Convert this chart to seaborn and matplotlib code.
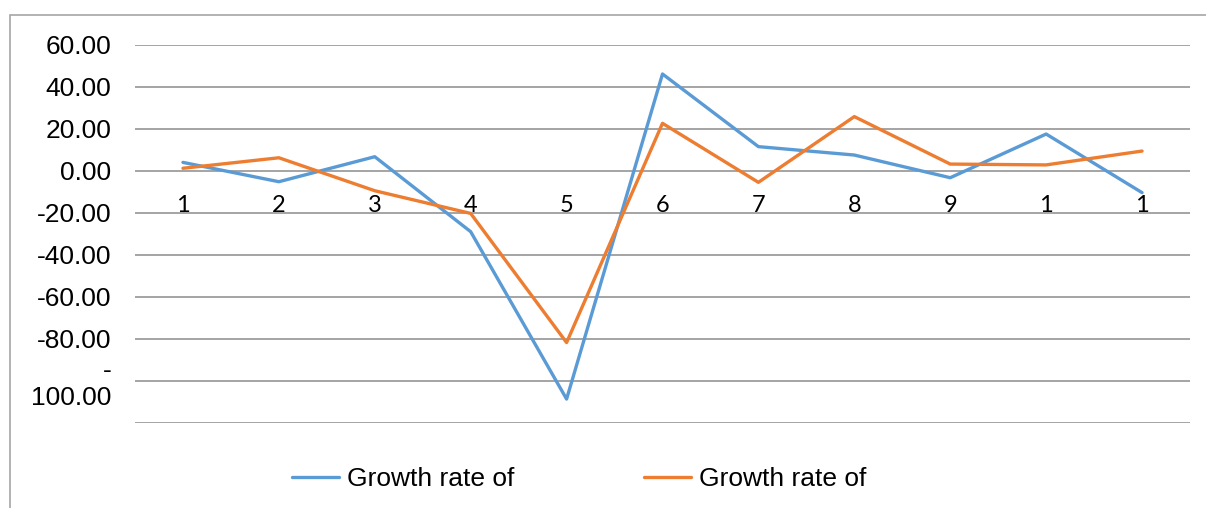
# Two growth-rate series over 11 periods, Excel-style line chart.
import matplotlib

matplotlib.use("Agg")
import matplotlib.pyplot as plt
import numpy as np
import pandas as pd
import seaborn as sns
from matplotlib.patches import Rectangle

periods = np.arange(11)
x_labels = ["1", "2", "3", "4", "5", "6", "7", "8", "9", "1", "1"]
series_a = [4.1, -5.1, 6.8, -28.9, -108.6, 46.2, 11.6, 7.6, -3.2, 17.6, -10.3]
series_b = [1.3, 6.3, -9.4, -20.2, -81.7, 22.7, -5.4, 25.9, 3.3, 2.9, 9.5]
legend_names = ["Growth rate of", "Growth rate of"]
y_ticks = [60, 40, 20, 0, -20, -40, -60, -80, -100, -120]
y_ticklabels = ["60.00", "40.00", "20.00", "0.00", "-20.00", "-40.00",
                "-60.00", "-80.00", "-\n100.00", ""]

df = pd.DataFrame({"period": periods, "a": series_a, "b": series_b})

sns.set_theme(style="white")
plt.rcParams["font.family"] = ["Liberation Sans", "DejaVu Sans"]
plt.rcParams["text.color"] = "black"

fig = plt.figure(figsize=(12.06, 5.08), dpi=100)
ax = fig.add_axes([135 / 1206, 1 - 423 / 508, 1055 / 1206, 378 / 508])

# outer chart frame (cropped on right and bottom)
fig.patches.append(Rectangle((10 / 1206, -0.1), 1.2, 1 - 15 / 508 + 0.1,
                             transform=fig.transFigure, fill=False,
                             edgecolor="#a6a6a6", lw=1.2))

sns.lineplot(data=df, x="period", y="a", color="#5B9BD5", lw=2.4,
             label=legend_names[0], ax=ax, legend=False)
sns.lineplot(data=df, x="period", y="b", color="#ED7D31", lw=2.4,
             label=legend_names[1], ax=ax, legend=False)

ax.set_xlim(-0.5, 10.5)
ax.set_ylim(-120, 60)
ax.tick_params(axis="y", length=0, pad=17)
ax.tick_params(axis="x", length=0, pad=17)
ax.spines["bottom"].set_position(("data", 0))
for s in ax.spines.values():
    s.set_visible(False)

ax.set_yticks(y_ticks)
ax.set_yticklabels(y_ticklabels, fontsize=19, color="black", linespacing=1.15)
ax.yaxis.grid(True, color="#8c8c8c", lw=1.1)
ax.set_axisbelow(True)

ax.set_xticks(periods)
ax.set_xticklabels(x_labels, fontsize=17, family=["Lato", "DejaVu Sans"], color="black")
ax.set_xlabel("")
ax.set_ylabel("")

handles, labels = ax.get_legend_handles_labels()
fig.legend(handles, labels, loc="center", bbox_to_anchor=(579 / 1206, 1 - 479 / 508),
           ncol=2, frameon=False, fontsize=19, handlelength=1.8,
           handletextpad=0.3, columnspacing=4.9, labelcolor="black")

plt.savefig("out.png", dpi=100)
